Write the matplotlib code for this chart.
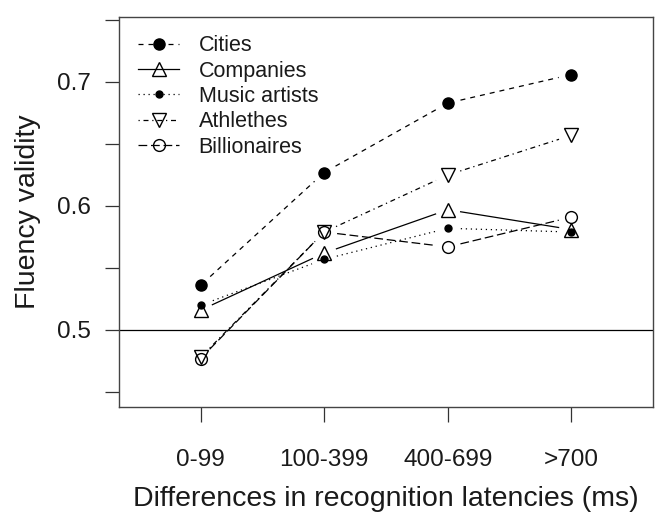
import matplotlib

matplotlib.use("Agg")

import numpy as np
import matplotlib.pyplot as plt

plt.rcParams["font.family"] = ["Liberation Sans", "DejaVu Sans"]

# %% Data
categories = ["0-99", "100-399", "400-699", ">700"]
cities = [0.536, 0.627, 0.683, 0.706]
companies = [0.516, 0.562, 0.597, 0.581]
music_artists = [0.520, 0.557, 0.582, 0.579]
athlethes = [0.478, 0.579, 0.625, 0.657]
billionaires = [0.477, 0.579, 0.567, 0.591]

series = [
    ("Cities", cities, (0, (4, 4)), "o", "k", 8.0),
    ("Companies", companies, "-", "^", "none", 10.0),
    ("Music artists", music_artists, (0, (1, 3)), "o", "k", 5.0),
    ("Athlethes", athlethes, (0, (1, 3, 4, 3)), "v", "none", 10.0),
    ("Billionaires", billionaires, (0, (7, 3)), "o", "none", 8.5),
]

GAP_PX = 13  # R type="b" leaves a gap around each point
TXT = "#1a1a1a"

# %% Plot
fig = plt.figure(figsize=(6.59, 5.19), dpi=100)
ax = fig.add_axes([119 / 659, 112 / 519, 534 / 659, 390 / 519])

x = np.arange(len(categories))
ax.set_xlim(-0.66, 3.66)
ax.set_ylim(0.4379, 0.7524)

ax.axhline(0.5, color="k", lw=0.9)

fig.canvas.draw()
to_px = ax.transData
to_data = ax.transData.inverted()

handles = []
for name, vals, ls, mk, mfc, ms in series:
    pts = to_px.transform(np.column_stack([x, vals]))
    for p0, p1 in zip(pts[:-1], pts[1:]):
        d = p1 - p0
        u = d / np.hypot(*d)
        a = to_data.transform(p0 + u * GAP_PX)
        b = to_data.transform(p1 - u * GAP_PX)
        ax.plot([a[0], b[0]], [a[1], b[1]], color="k", ls=ls, lw=0.9)
    ax.plot(x, vals, ls="none", marker=mk, ms=ms, mfc=mfc, mec="k", mew=1.0, zorder=3)
    (h,) = ax.plot([], [], color="k", ls=ls, lw=0.9, marker=mk, ms=ms, mfc=mfc, mec="k", mew=1.0)
    handles.append(h)

leg = ax.legend(
    handles,
    [s[0] for s in series],
    loc="upper left",
    bbox_to_anchor=(0.02, 0.975),
    frameon=False,
    fontsize=15.5,
    handlelength=1.9,
    handletextpad=0.9,
    labelspacing=0.2,
    borderaxespad=0,
)
for t in leg.get_texts():
    t.set_color(TXT)

ax.set_xticks(x)
ax.set_xticklabels(categories)
ax.set_yticks([0.45, 0.5, 0.55, 0.6, 0.65, 0.7, 0.75])
ax.set_yticklabels(["", "0.5", "", "0.6", "", "0.7", ""])
ax.tick_params(axis="x", direction="out", length=10.5, width=0.9, pad=20, labelsize=17.5, colors="#333333", labelcolor=TXT)
ax.tick_params(axis="y", direction="out", length=10, width=0.9, pad=10, labelsize=17.5, colors="#333333", labelcolor=TXT)
for sp in ax.spines.values():
    sp.set_color("#444444")
    sp.set_linewidth(1.0)

ax.set_xlabel("Differences in recognition latencies (ms)", fontsize=20.5, color=TXT)
ax.set_ylabel("Fluency validity", fontsize=20.5, color=TXT)
ax.xaxis.set_label_coords(0.5, -0.236)
ax.xaxis.label.set_va("center")
ax.yaxis.set_label_coords(-0.170, 0.5)
ax.yaxis.label.set_va("center")

fig.savefig("out.png", dpi=100)
